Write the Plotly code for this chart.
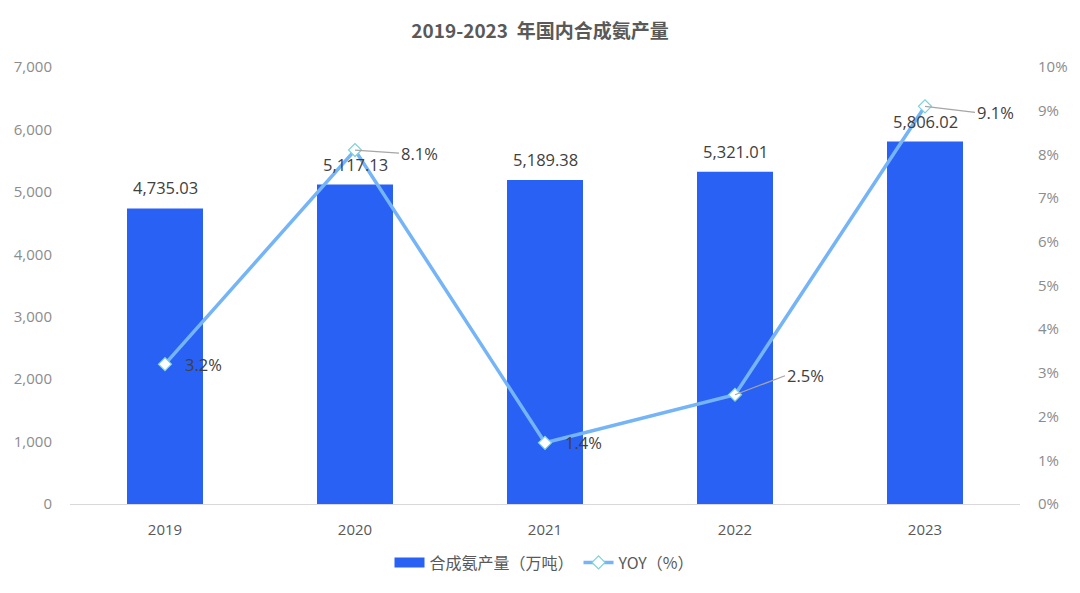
import plotly.graph_objects as go

years = [2019, 2020, 2021, 2022, 2023]
year_labels = ["2019", "2020", "2021", "2022", "2023"]
output = [4735.03, 5117.13, 5189.38, 5321.01, 5806.02]
yoy = [3.2, 8.1, 1.4, 2.5, 9.1]
yoy_labels = ["3.2%", "8.1%", "1.4%", "2.5%", "9.1%"]
left_ticks = [0, 1000, 2000, 3000, 4000, 5000, 6000, 7000]
left_tick_text = ["0", "1,000", "2,000", "3,000", "4,000", "5,000", "6,000", "7,000"]
right_ticks = list(range(0, 11))
right_tick_text = [f"{v}%" for v in right_ticks]
bar_labels = [f"{v:,.2f}" for v in output]

FONT = "Open Sans, Noto Sans CJK SC, sans-serif"
TITLE_FONT = "Noto Sans CJK SC, Open Sans, sans-serif"
BAR_COLOR = "#2861F4"
LINE_COLOR = "#74B4F7"

fig = go.Figure()
# legend swatch for the bar series (wide rectangle)
fig.add_trace(go.Scatter(
    x=[None], y=[None], name="合成氨产量（万吨）", mode="lines",
    line=dict(color=BAR_COLOR, width=12), legendrank=1,
))
fig.add_trace(go.Bar(
    x=years, y=output, name="合成氨产量（万吨）", showlegend=False,
    marker=dict(color=BAR_COLOR, line=dict(width=0)),
    width=0.4,
))
fig.add_trace(go.Scatter(
    x=years, y=yoy, name="YOY（%）", yaxis="y2", mode="lines+markers",
    line=dict(color=LINE_COLOR, width=3.5), legendrank=2,
    marker=dict(symbol="diamond", size=10, color="white",
                line=dict(color="#7DD3D8", width=1.2)),
))

for yr, v, lab in zip(years, output, bar_labels):
    fig.add_annotation(
        x=yr, y=v, xref="x", yref="y", text=lab, showarrow=False,
        xanchor="center", yanchor="bottom", yshift=7,
        font=dict(size=16.5, color="#404040", family=FONT),
    )

offsets = [(18, 0, False), (44, 3, True), (18, 0, False), (50, -19, True), (50, 6, True)]
for yr, v, lab, (ax, ay, arrow) in zip(years, yoy, yoy_labels, offsets):
    fig.add_annotation(
        x=yr, y=v, xref="x", yref="y2", text=lab, showarrow=True,
        ax=ax, ay=ay,
        arrowhead=0, arrowwidth=1.2,
        arrowcolor="#A6A6A6" if arrow else "rgba(0,0,0,0)",
        xanchor="left", yanchor="middle",
        font=dict(size=16.5, color="#404040", family=FONT),
    )

fig.update_layout(
    width=1080, height=593,
    margin=dict(l=70, r=58, t=67, b=89),
    plot_bgcolor="white", paper_bgcolor="white",
    font=dict(family=FONT, color="#595959"),
    title=dict(text="<b>2019-2023  年国内合成氨产量</b>", x=0.5, xanchor="center",
               y=0.947, yanchor="middle",
               font=dict(size=19, color="#595959", family=TITLE_FONT)),
    xaxis=dict(type="linear", range=[2018.5, 2023.5], tickmode="array",
               tickvals=years, ticktext=year_labels,
               showgrid=False, showline=True, linecolor="#D9D9D9", zeroline=False,
               linewidth=1, ticks="outside", ticklen=12, tickcolor="rgba(0,0,0,0)",
               tickfont=dict(size=15, color="#595959")),
    yaxis=dict(range=[0, 7000], tickmode="array", tickvals=left_ticks,
               ticktext=left_tick_text, showgrid=False,
               zeroline=False, showline=False, ticks="outside", ticklen=14,
               tickcolor="rgba(0,0,0,0)",
               tickfont=dict(size=15, color="#8C8C8C")),
    yaxis2=dict(range=[0, 10], tickmode="array", tickvals=right_ticks,
                ticktext=right_tick_text, overlaying="y", anchor="x",
                side="right", showgrid=False, zeroline=False, showline=False,
                ticks="outside", ticklen=14, tickcolor="rgba(0,0,0,0)",
                tickfont=dict(size=15, color="#8C8C8C")),
    legend=dict(orientation="h", x=0.5, xanchor="center", y=-0.095, yanchor="top",
                font=dict(size=16, color="#595959", family=TITLE_FONT),
                itemwidth=30, tracegroupgap=0),
    showlegend=True,
)

fig.write_html("out.html")
